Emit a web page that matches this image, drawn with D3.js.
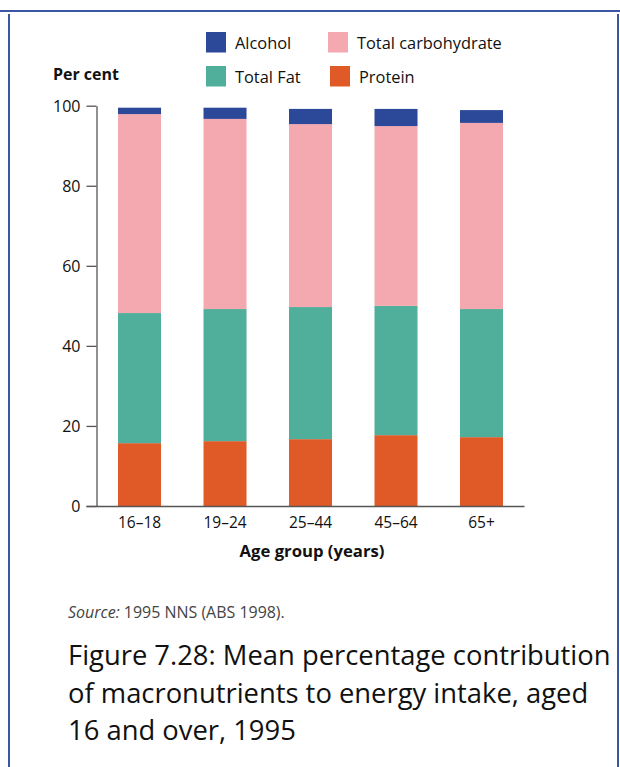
<!DOCTYPE html>
<html>
<head>
<meta charset="utf-8">
<script src="https://cdn.jsdelivr.net/npm/d3@7"></script>
<style>
  html, body { margin: 0; padding: 0; background: #fff; }
  svg { display: block; font-family: "Open Sans", sans-serif; }
</style>
</head>
<body>
<svg id="chart" width="620" height="767"></svg>
<script>
const ageGroups = ["16–18", "19–24", "25–44", "45–64", "65+"];
const protein = [15.7, 16.2, 16.7, 17.7, 17.2];
const totalFat = [32.5, 33.0, 33.0, 32.3, 32.0];
const totalCarbohydrate = [49.7, 47.5, 45.7, 44.9, 46.5];
const alcohol = [1.6, 2.8, 3.8, 4.3, 3.2];
const yTicks = [0, 20, 40, 60, 80, 100];
const seriesNames = ["Protein", "Total Fat", "Total carbohydrate", "Alcohol"];
const seriesColors = ["#e05a28", "#4faf9b", "#f4a9b0", "#2c4899"];
const legendOrder = [["Alcohol", "Total carbohydrate"], ["Total Fat", "Protein"]];

const svg = d3.select("#chart");
const color = d3.scaleOrdinal().domain(seriesNames).range(seriesColors);

function fit(sel, target) {
  const n = sel.node();
  const fs = parseFloat(sel.attr("font-size"));
  const w = n.getComputedTextLength();
  const nf = fs * target / w;
  sel.attr("font-size", nf);
  return nf;
}

// frame
const frame = "#3b56a3";
svg.append("line").attr("x1", 0).attr("x2", 620).attr("y1", 11).attr("y2", 11)
  .attr("stroke", frame).attr("stroke-width", 2);
svg.append("line").attr("x1", 9).attr("x2", 9).attr("y1", 14).attr("y2", 767)
  .attr("stroke", frame).attr("stroke-width", 2);
svg.append("line").attr("x1", 618).attr("x2", 618).attr("y1", 14).attr("y2", 767)
  .attr("stroke", frame).attr("stroke-width", 2);

// data table
const table = ageGroups.map((g, i) => ({
  group: g,
  "Protein": protein[i],
  "Total Fat": totalFat[i],
  "Total carbohydrate": totalCarbohydrate[i],
  "Alcohol": alcohol[i]
}));
const stacked = d3.stack().keys(seriesNames)(table);

const x = d3.scaleBand().domain(ageGroups).range([86, 524])
  .paddingInner(0.497).paddingOuter(0.31).align(0.604);
const y = d3.scaleLinear().domain([0, 100]).range([506, 105.7]);

// bars
svg.append("g").selectAll("g").data(stacked).join("g")
  .attr("fill", d => color(d.key))
  .selectAll("rect").data(d => d).join("rect")
  .attr("x", d => x(d.data.group))
  .attr("width", x.bandwidth())
  .attr("y", d => y(d[1]))
  .attr("height", d => y(d[0]) - y(d[1]));

// y axis
const yAxis = svg.append("g").attr("transform", "translate(96.5,0)")
  .call(d3.axisLeft(y).tickValues(yTicks).tickSize(10).tickSizeOuter(0).tickPadding(6));
yAxis.select(".domain").attr("stroke", "#555").attr("stroke-width", 1.3);
yAxis.selectAll(".tick line").attr("stroke", "#555").attr("stroke-width", 1.3);
yAxis.selectAll(".tick text").attr("font-family", "Open Sans").attr("font-size", 16)
  .attr("fill", "#111").attr("dy", "0.36em");

// x axis
const xAxis = svg.append("g").attr("transform", "translate(0,506)")
  .call(d3.axisBottom(x).tickSize(0).tickSizeOuter(0).tickPadding(10));
xAxis.select(".domain").attr("stroke", "#555").attr("stroke-width", 1.3);
xAxis.selectAll(".tick text").attr("font-family", "Open Sans").attr("font-size", 15.5)
  .attr("fill", "#111").attr("dy", "0").attr("y", 22);

// axis titles
const perCent = svg.append("text").attr("x", 53).attr("y", 80).attr("font-size", 16)
  .attr("font-weight", "bold").attr("fill", "#111").text("Per cent");
fit(perCent, 66);
const xTitle = svg.append("text").attr("x", 312).attr("y", 557).attr("text-anchor", "middle")
  .attr("font-size", 16).attr("font-weight", "bold").attr("fill", "#111").text("Age group (years)");
fit(xTitle, 145);

// legend
const legCols = [206, 328];
const legRows = [32, 66];
const legend = svg.append("g");
let legTexts = [];
legendOrder.forEach((row, ri) => {
  row.forEach((name, ci) => {
    const gx = legCols[ci] + (ri === 1 && ci === 1 ? 2 : 0);
    legend.append("rect").attr("x", gx).attr("y", legRows[ri]).attr("width", 20).attr("height", 20.5)
      .attr("fill", color(name));
    const t = legend.append("text").attr("x", gx + 29).attr("y", legRows[ri] + 16.5)
      .attr("font-size", 16).attr("fill", "#111").text(name);
    legTexts.push(t);
  });
});
const lfs = fit(legTexts[1], 145);
legTexts.forEach(t => t.attr("font-size", lfs));

// source
const src = svg.append("text").attr("x", 68).attr("y", 618).attr("font-size", 14).attr("fill", "#444");
src.append("tspan").attr("font-style", "italic").text("Source:");
src.append("tspan").text(" 1995 NNS (ABS 1998).");
fit(src, 217);

// title
const titleLines = ["Figure 7.28: Mean percentage contribution",
  "of macronutrients to energy intake, aged",
  "16 and over, 1995"];
const titleSel = titleLines.map((l, i) => svg.append("text").attr("x", 68).attr("y", 665 + i * 37.5)
  .attr("font-size", 29).attr("fill", "#111").text(l));
const tfs = fit(titleSel[0], 543);
titleSel.forEach(t => t.attr("font-size", tfs));
</script>
</body>
</html>
